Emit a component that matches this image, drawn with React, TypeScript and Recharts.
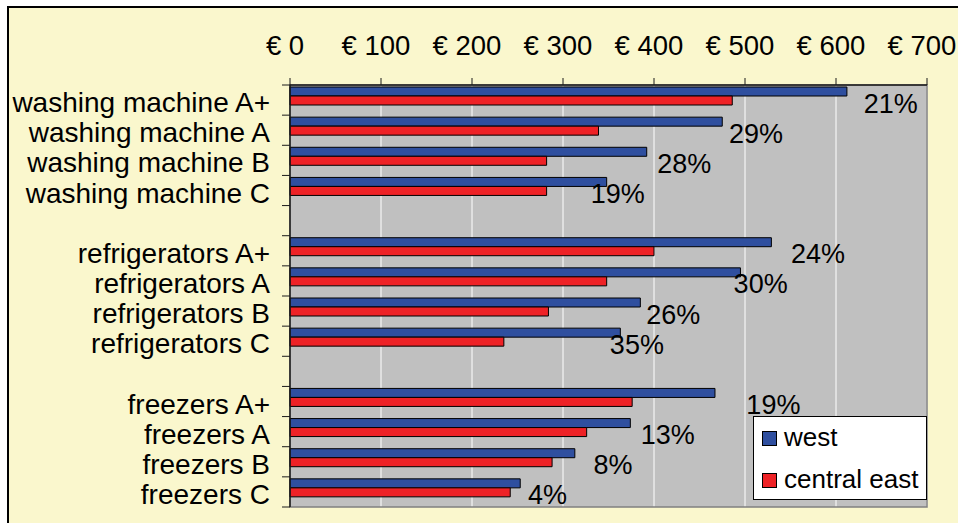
import React from 'react';
import { BarChart, Bar, XAxis, YAxis, CartesianGrid, Legend, LabelList, ReferenceArea } from 'recharts';

// ---- data ----
const categories = [
  'washing machine A+', 'washing machine A', 'washing machine B', 'washing machine C',
  '',
  'refrigerators A+', 'refrigerators A', 'refrigerators B', 'refrigerators C',
  '',
  'freezers A+', 'freezers A', 'freezers B', 'freezers C',
];
const westValues = [612, 475, 392, 348, null, 529, 495, 385, 363, null, 467, 374, 313, 253];
const centralEastValues = [486, 339, 282, 282, null, 400, 348, 284, 235, null, 376, 326, 288, 242];
const differenceLabels = ['21%', '29%', '28%', '19%', '', '24%', '30%', '26%', '35%', '', '19%', '13%', '8%', '4%'];
// invisible helper series: where each difference label is anchored (in €)
const labelAnchorValues = [625, 477, 398, 325, null, 545, 482, 386, 346, null, 496, 380, 328, 256];
const xTicks = [0, 100, 200, 300, 400, 500, 600, 700];
const seriesOrder = ['west', 'centralEast'];

const data = categories.map((name, i) => ({
  key: `c${i}`,
  name,
  west: westValues[i],
  centralEast: centralEastValues[i],
  anchor: labelAnchorValues[i],
  diff: differenceLabels[i],
}));
const nameByKey: Record<string, string> = {};
data.forEach((d) => { nameByKey[d.key] = d.name; });

// ---- styles ----
const FONT = '"Liberation Sans", Arial, sans-serif';
const CAT_FS = 28;
const TICK_FS = 27.5;
const LABEL_FS = 27;
const W = 958;
const H = 523;
const Y_AXIS_W = 290;
const X_AXIS_H = 85;
const MARGIN = { top: 0, right: 31, bottom: 16, left: 0 };
const PLOT_H = H - MARGIN.top - MARGIN.bottom - X_AXIS_H;
const BAND = PLOT_H / categories.length;
const TICK_SIZE = 8;
const TICK_MARGIN = 12;
const AXIS_COLOR = '#1a1a1a';
const BLUE = '#2f4f9f';
const RED = '#ee2226';

const YTick = (props: any) => {
  const { y, payload, index } = props;
  const axisX = MARGIN.left + Y_AXIS_W;
  const half = BAND / 2;
  const label = nameByKey[payload.value] ?? '';
  return (
    <g>
      <line x1={axisX - TICK_SIZE} x2={axisX} y1={y - half} y2={y - half} stroke={AXIS_COLOR} strokeWidth={1} />
      {index === categories.length - 1 && (
        <line x1={axisX - TICK_SIZE} x2={axisX} y1={y + half} y2={y + half} stroke={AXIS_COLOR} strokeWidth={1} />
      )}
      <text
        x={axisX - TICK_SIZE - TICK_MARGIN}
        y={y + 12}
        textAnchor="end"
        fontSize={CAT_FS}
        fontFamily={FONT}
        fill="#000"
      >
        {label}
      </text>
    </g>
  );
};

const DiffLabel = (props: any) => {
  const vb = props.viewBox ?? props;
  const x = vb.x ?? props.x;
  const y = vb.y ?? props.y;
  const width = vb.width ?? props.width;
  const height = vb.height ?? props.height;
  const value = props.value;
  if (!value || x == null) return null;
  return (
    <text
      x={x + width + 5}
      y={y + height / 2 + 3}
      fontSize={LABEL_FS}
      fontFamily={FONT}
      fill="#000"
      textAnchor="start"
    >
      {value}
    </text>
  );
};

const LegendBox = (props: any) => {
  const items = (props.payload || [])
    .filter((p: any) => p.type !== 'none' && seriesOrder.includes(p.dataKey))
    .sort((a: any, b: any) => seriesOrder.indexOf(a.dataKey) - seriesOrder.indexOf(b.dataKey));
  return (
    <div
      style={{
        width: 174,
        height: 84,
        background: '#fff',
        border: '1px solid #000',
        boxSizing: 'border-box',
        position: 'relative',
        fontFamily: FONT,
      }}
    >
      {items.map((item: any, i: number) => (
        <div
          key={i}
          style={{ position: 'absolute', left: 8, top: 14 + i * 42, height: 15, display: 'flex', alignItems: 'center' }}
        >
          <span
            style={{ width: 13, height: 13, background: item.color, border: '1px solid #000', display: 'inline-block' }}
          />
          <span style={{ marginLeft: 7, fontSize: 26, lineHeight: '15px', color: '#000', whiteSpace: 'nowrap', position: 'relative', top: -1 }}>
            {item.value}
          </span>
        </div>
      ))}
    </div>
  );
};

export default function App() {
  return (
    <div style={{ position: 'absolute', left: 0, top: 0, width: W, height: H, overflow: 'hidden' }}>
      <div
        style={{
          position: 'absolute',
          left: 7,
          top: 6,
          width: W,
          height: H,
          background: '#faf7cd',
          borderLeft: '2px solid #000',
          borderTop: '2px solid #000',
        }}
      />
      <div style={{ position: 'absolute', left: 0, top: 0 }}>
        <BarChart
          width={W}
          height={H}
          data={data}
          layout="vertical"
          margin={MARGIN}
          barSize={9}
          barGap={0}
        >
          <CartesianGrid horizontal={false} vertical stroke="#ffffff" strokeWidth={1} fill="#c0c0c0" fillOpacity={1} />
          <ReferenceArea x1={0} x2={700} fill="none" fillOpacity={0} stroke="#808080" strokeWidth={1.5} />
          <XAxis
            type="number"
            orientation="top"
            domain={[0, 700]}
            ticks={xTicks}
            interval={0}
            height={X_AXIS_H}
            tickSize={7}
            tickMargin={23}
            tickFormatter={(v: number) => `€ ${v}`}
            tick={{ fontSize: TICK_FS, fontFamily: FONT, fill: '#000', dx: -5 }}
            axisLine={{ stroke: AXIS_COLOR, strokeWidth: 1.5 }}
            tickLine={{ stroke: AXIS_COLOR }}
          />
          <YAxis
            type="category"
            dataKey="key"
            width={Y_AXIS_W}
            interval={0}
            tickSize={TICK_SIZE}
            tickMargin={TICK_MARGIN}
            tick={<YTick />}
            tickLine={false}
            axisLine={{ stroke: AXIS_COLOR, strokeWidth: 1.5 }}
          />
          <Legend
            layout="vertical"
            align="center"
            verticalAlign="middle"
            content={<LegendBox />}
            wrapperStyle={{ left: 753, top: 416, width: 174, height: 84 }}
          />
          <Bar dataKey="west" name="west" fill={BLUE} stroke="#000" strokeWidth={1} isAnimationActive={false} />
          <Bar dataKey="centralEast" name="central east" fill={RED} stroke="#000" strokeWidth={1} isAnimationActive={false} />
          <Bar dataKey="anchor" name="labels" fill="transparent" stroke="none" legendType="none" isAnimationActive={false}>
            <LabelList dataKey="diff" content={<DiffLabel />} />
          </Bar>
        </BarChart>
      </div>
    </div>
  );
}
